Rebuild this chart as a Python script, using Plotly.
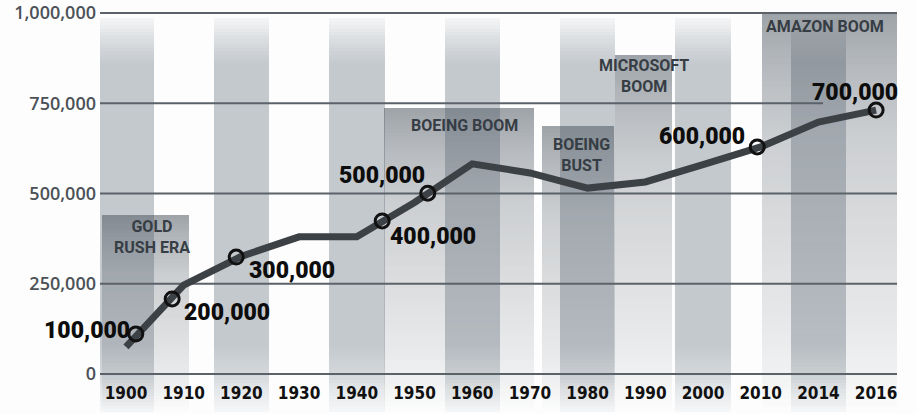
import numpy as np
import plotly.graph_objects as go

# ---------------- data ----------------
years = ["1900", "1910", "1920", "1930", "1940", "1950", "1960",
         "1970", "1980", "1990", "2000", "2010", "2014", "2016"]
population = [75000, 246000, 326000, 380000, 380000, 475000, 582000,
              557000, 515000, 532000, 580000, 629000, 698000, 731000]

y_ticks = [0, 250000, 500000, 750000, 1000000]

milestone_labels = ["100,000", "200,000", "300,000", "400,000",
                    "500,000", "600,000", "700,000"]
milestone_years = [1901.7, 1908.0, 1919.1, 1944.4, 1952.3, 2009.4, 2016.0]
milestone_values = [111000, 208000, 324000, 424000, 501000, 629000, 731000]

era_names = ["GOLD<br>RUSH ERA", "BOEING BOOM", "BOEING<br>BUST",
             "MICROSOFT<br>BOOM", "AMAZON BOOM"]
era_start = [-0.42, 4.47, 7.21, 8.475, 11.02]    # in year-slot units
era_end = [1.09, 7.07, 8.46, 9.46, 13.36]
era_top = [440000, 737000, 687000, 884000, 1000000]

band_slots = [0, 2, 4, 6, 8, 10, 12]   # shaded decade columns

# ---------------- geometry / style ----------------
X_MIN, X_MAX = -0.4506, 13.362
Y_LO, Y_HI = -105263, 1013850
BAND_TOP = 986000
BAND_HALF = 0.48
STEP = 9000   # height of one gradient strip (axis units)

idx = np.arange(len(years))
year_num = [int(y) for y in years]
milestone_x = np.interp(milestone_years, year_num, idx)


def hex_rgb(h):
    return [int(h[i:i + 2], 16) for i in (1, 3, 5)]


# band colour as a function of height (vertical fade at top and bottom)
band_stops_y = [Y_LO, -40000, 0, 80000, 860000, 930000, BAND_TOP]
band_stops_c = [hex_rgb(c) for c in
                ["#f6f7f8", "#e4e7e9", "#d4d8db", "#c4c9ce", "#c4c9ce", "#dcdfe2", "#f5f6f7"]]
# era overlay opacity as a function of relative height inside the box
era_f = [0, 0.1, 0.2, 0.7, 0.9, 1.0]
era_a = [0.0, 0.07, 0.11, 0.27, 0.42, 0.52]

fig = go.Figure()

# decade bands: stacked strips -> vertical gradient
bx, bb, bh, bc, bw = [], [], [], [], []
levels = np.arange(Y_LO, BAND_TOP, STEP)
for c in band_slots:
    for lo in levels:
        hi = min(lo + STEP, BAND_TOP)
        mid = (lo + hi) / 2
        rgb = [int(round(np.interp(mid, band_stops_y, [s[k] for s in band_stops_c]))) for k in range(3)]
        bx.append(c); bb.append(lo); bh.append(hi - lo); bw.append(2 * BAND_HALF)
        bc.append("rgb(%d,%d,%d)" % tuple(rgb))
fig.add_trace(go.Bar(x=bx, y=bh, base=bb, width=bw,
                     marker=dict(color=bc, line=dict(width=0)), hoverinfo="skip"))

# era boxes: semi-transparent strips fading downwards
ex, eb, eh, ec, ew = [], [], [], [], []
for x0, x1, top in zip(era_start, era_end, era_top):
    for lo in np.arange(Y_LO, top, STEP):
        hi = min(lo + STEP, top)
        f = ((lo + hi) / 2 - Y_LO) / (top - Y_LO)
        a = np.interp(f, era_f, era_a)
        ex.append((x0 + x1) / 2); ew.append(x1 - x0); eb.append(lo); eh.append(hi - lo)
        ec.append("rgba(70,80,90,%.3f)" % a)
fig.add_trace(go.Bar(x=ex, y=eh, base=eb, width=ew,
                     marker=dict(color=ec, line=dict(width=0)), hoverinfo="skip"))

# gridlines drawn above the shading
gx, gy = [], []
for v in y_ticks:
    end = 12.08 if v == 750000 else X_MAX
    gx += [X_MIN, end, None]
    gy += [v, v, None]
fig.add_trace(go.Scatter(x=gx, y=gy, mode="lines",
                         line=dict(color="#5b6269", width=1.8), hoverinfo="skip"))

# population line
fig.add_trace(go.Scatter(x=idx, y=population, mode="lines",
                         line=dict(color="#3c4146", width=7), hoverinfo="skip"))

# milestone markers
fig.add_trace(go.Scatter(x=milestone_x, y=milestone_values, mode="markers",
                         marker=dict(symbol="circle-open", size=14, color="#111111",
                                     line=dict(width=3)),
                         hoverinfo="skip"))

# milestone labels
label_style = [("right", -4, 3), ("left", 10, -14), ("left", 11, -13),
               ("left", 6, -16), ("right", -1, 18), ("right", -10, 10),
               ("right", 24, 18)]
for txt, x, y, (xa, xs, ys) in zip(milestone_labels, milestone_x, milestone_values, label_style):
    fig.add_annotation(x=x, y=y, text=txt, showarrow=False, xanchor=xa, yanchor="middle",
                       xshift=xs, yshift=ys,
                       font=dict(family="Roboto", size=23, color="#0d0d0d", weight=900))

# era labels
era_label_pos = [(0.45, 379000), (5.875, 687000), (7.90, 607000), (8.98, 825000), (12.11, 964000)]
for name, (x, y) in zip(era_names, era_label_pos):
    fig.add_annotation(x=x, y=y, text=name, showarrow=False, xanchor="center", yanchor="middle",
                       font=dict(family="Roboto", size=16, color="#363d44", weight="bold"))

fig.update_layout(
    width=917, height=414,
    margin=dict(l=100, r=20, t=8, b=2),
    paper_bgcolor="#fdfdfd", plot_bgcolor="#fdfdfd",
    showlegend=False, barmode="overlay", bargap=0,
    xaxis=dict(range=[X_MIN, X_MAX], tickvals=list(idx), ticktext=years,
               anchor="free", position=0.0755, automargin=False,
               showgrid=False, zeroline=False, showline=False, ticks="",
               tickfont=dict(family="Liberation Sans Narrow, DejaVu Sans Condensed, sans-serif",
                             size=17, color="#111111", weight="bold")),
    yaxis=dict(range=[Y_LO, Y_HI], tickvals=y_ticks, tickformat=",", automargin=False,
               showgrid=False, zeroline=False, showline=False, ticks="",
               ticklabelstandoff=3,
               tickfont=dict(family="Open Sans", size=18, color="#4b5157", weight=600)),
)

# remove the browser's default 8px page margin so the figure fills the window
fig.write_html("out.html", config={"displayModeBar": False},
               post_script="document.body.style.margin='0px';")
